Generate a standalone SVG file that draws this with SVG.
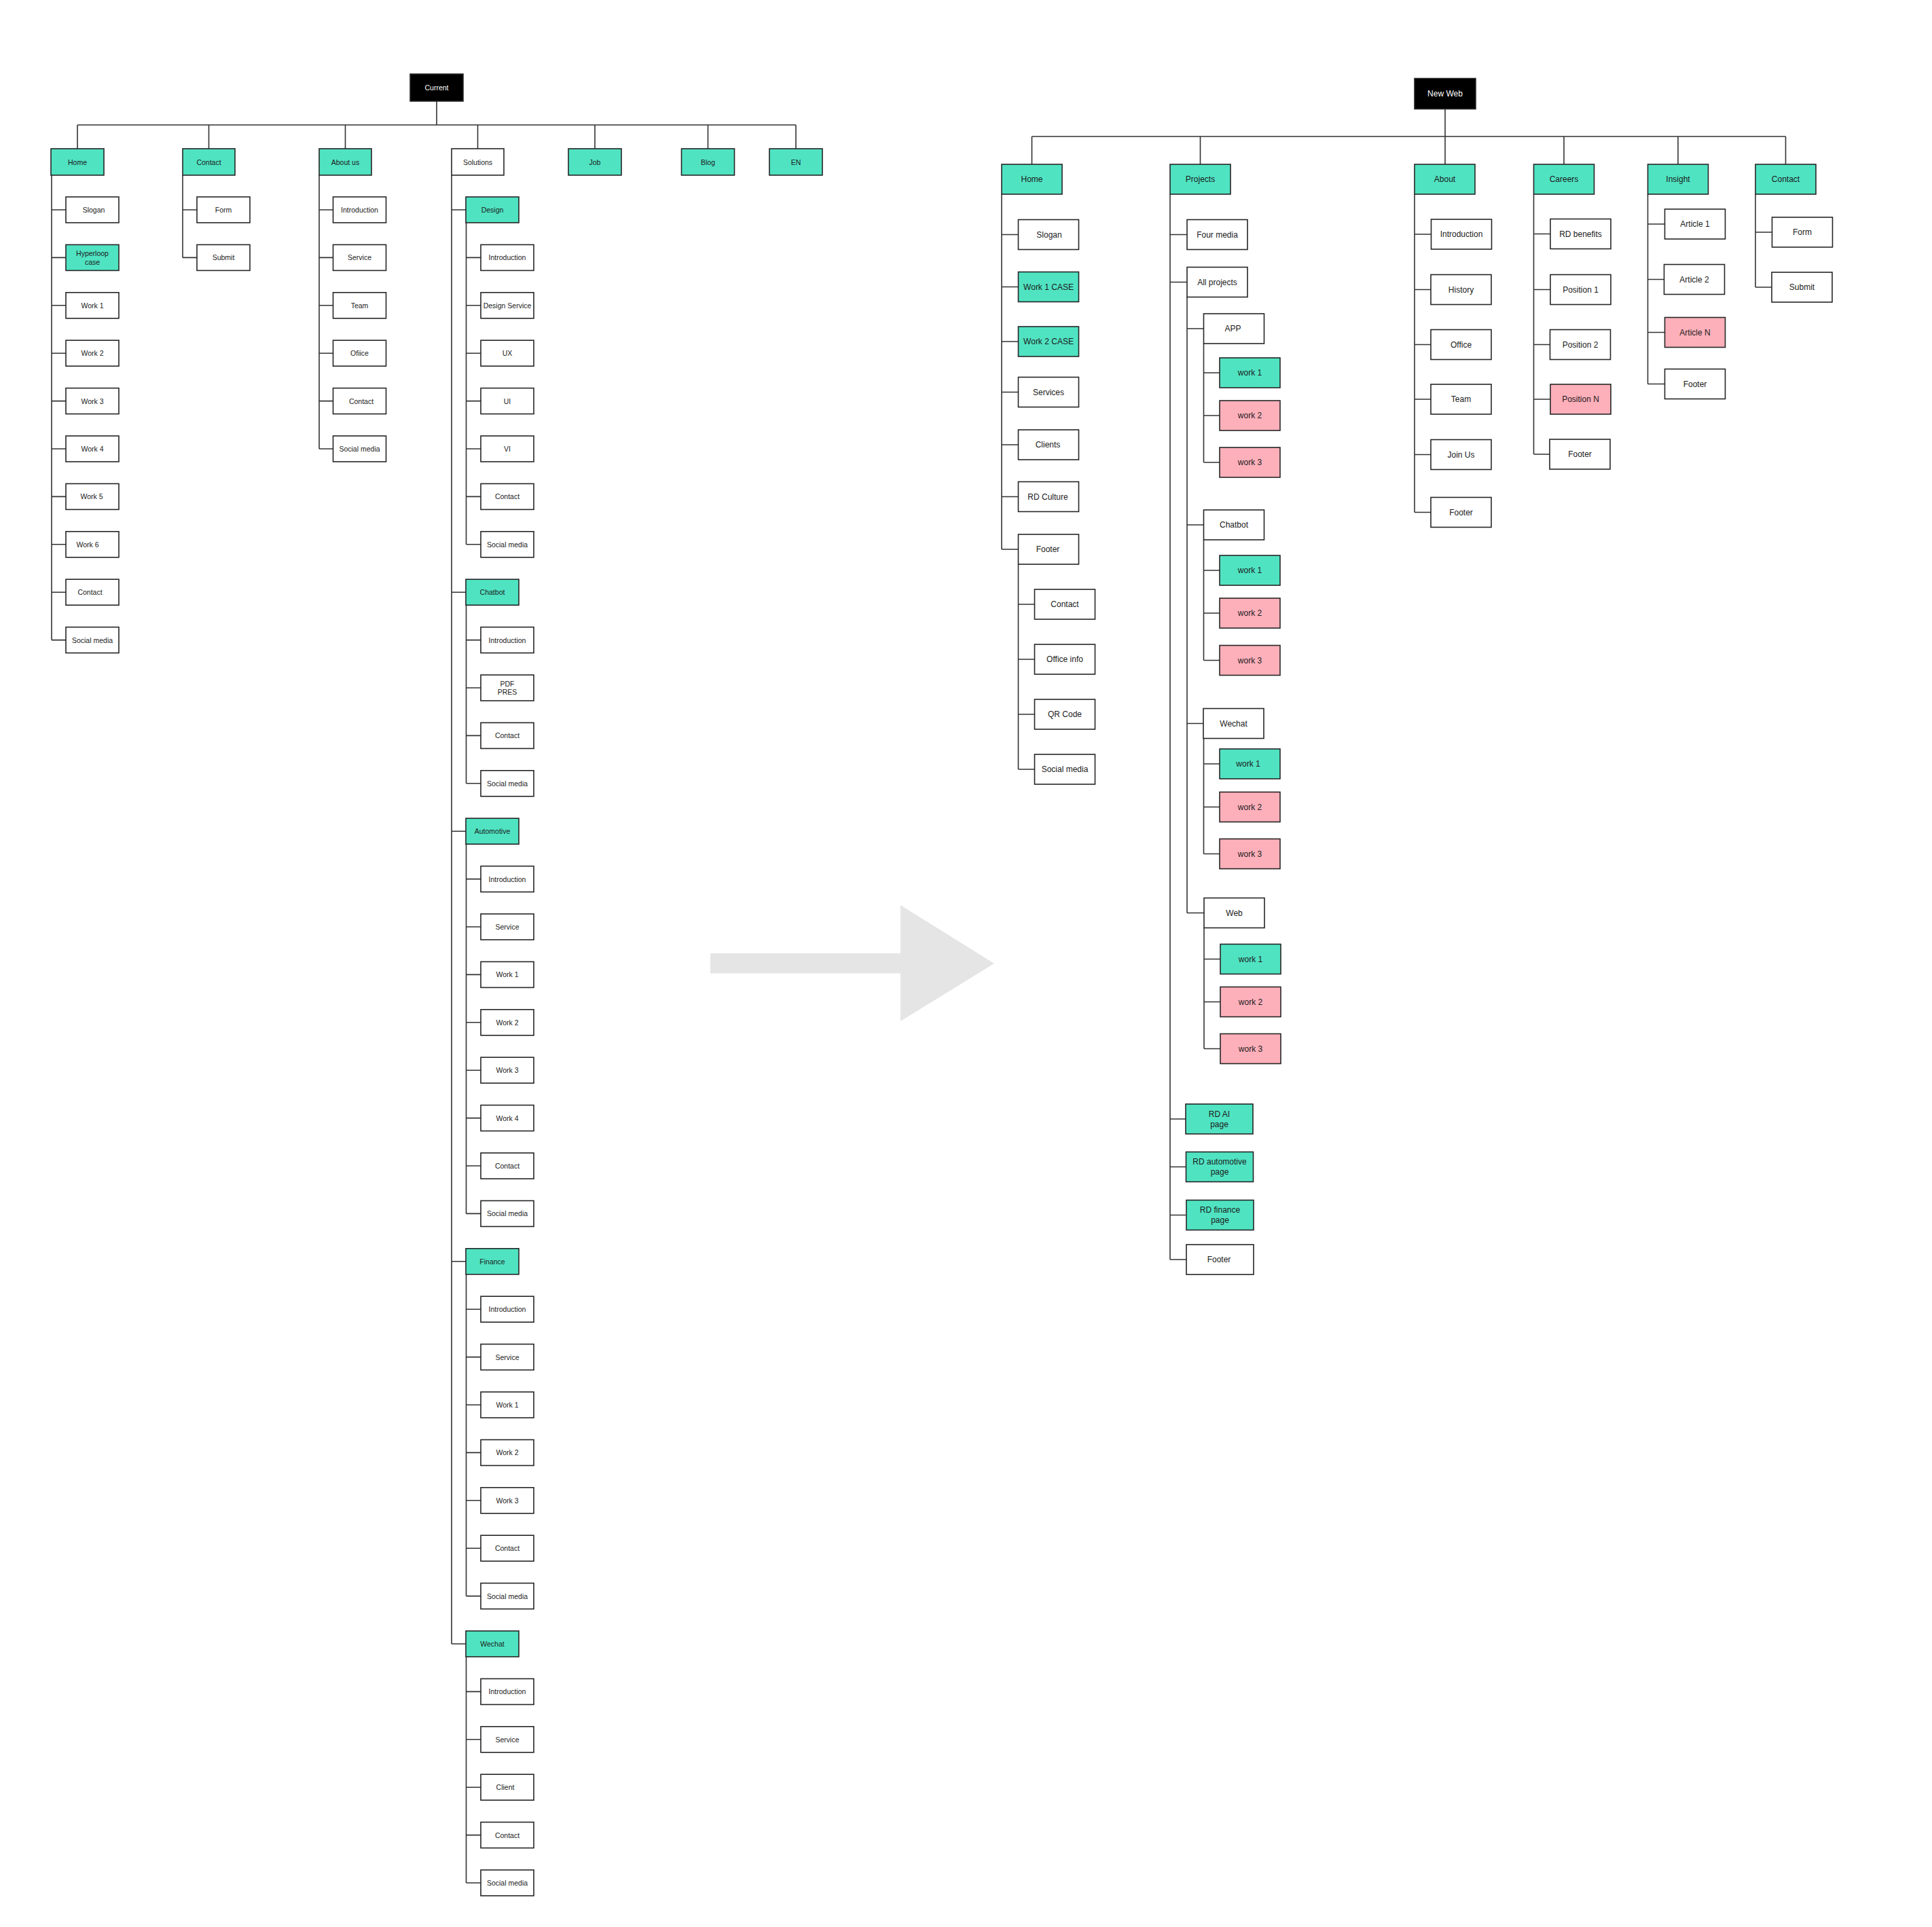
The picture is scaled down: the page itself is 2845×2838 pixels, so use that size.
<svg xmlns="http://www.w3.org/2000/svg" width="2845" height="2838" viewBox="0 0 2845 2838">
<style>
rect{stroke:#262626;stroke-width:1.6}
.w{fill:#fff}.t{fill:#50E3C2}.p{fill:#FDB0BA}.k{fill:#000}
text{font-family:"Liberation Sans",Arial,Helvetica,sans-serif;fill:#1a1a1a;text-anchor:middle;dominant-baseline:central}
.s{font-size:10.5px}.l{font-size:12px}.inv{fill:#fff}
</style>
<rect x="0" y="0" width="2845" height="2838" fill="#fff" style="stroke:none"/>
<g id="transition-arrow"><polygon points="1046,1404 1326,1404 1326,1333 1464,1419 1326,1504 1326,1433.5 1046,1433.5" fill="#E5E5E5"/></g>
<g id="connectors" fill="none" stroke="#333" stroke-width="1.6">
<path d="M643 149V184M114 184H1172M114 184V219M307.5 184V219M508.5 184V219M703.5 184V219M876 184V219M1042.5 184V219M1172 184V219"/>
<path d="M76 258V942.6M76 309H97M76 379.4H97M76 449.8H97M76 520.2H97M76 590.6H97M76 661H97M76 731.4H97M76 801.8H97M76 872.2H97M76 942.6H97"/>
<path d="M269 258V379.4M269 309H290M269 379.4H290"/>
<path d="M470 258V661M470 309H490.5M470 379.4H490.5M470 449.8H490.5M470 520.2H490.5M470 590.6H490.5M470 661H490.5"/>
<path d="M665 258V2421M665 309H686M665 872.2H686M665 1224.2H686M665 1857.8H686M665 2421H686"/>
<path d="M686.5 328V801.8M686.5 379.4H708M686.5 449.8H708M686.5 520.2H708M686.5 590.6H708M686.5 661H708M686.5 731.4H708M686.5 801.8H708"/>
<path d="M686.5 891.2V1153.8M686.5 942.6H708M686.5 1013H708M686.5 1083.4H708M686.5 1153.8H708"/>
<path d="M686.5 1243.2V1787.4M686.5 1294.6H708M686.5 1365H708M686.5 1435.4H708M686.5 1505.8H708M686.5 1576.2H708M686.5 1646.6H708M686.5 1717H708M686.5 1787.4H708"/>
<path d="M686.5 1876.8V2350.6M686.5 1928.2H708M686.5 1998.6H708M686.5 2069H708M686.5 2139.4H708M686.5 2209.8H708M686.5 2280.2H708M686.5 2350.6H708"/>
<path d="M686.5 2440V2773M686.5 2491.4H708M686.5 2561.8H708M686.5 2632.2H708M686.5 2702.6H708M686.5 2773H708"/>
<path d="M2128 160.5V242M1519.5 201H2629.5M1519.5 201V242M1767.5 201V242M2303 201V242M2471 201V242M2629.5 201V242"/>
<path d="M1475 286V809M1475 345.5H1499.5M1475 422.5H1499.5M1475 503H1499.5M1475 577.5H1499.5M1475 655H1499.5M1475 731.5H1499.5M1475 809H1499.5"/>
<path d="M1499.5 831V1133M1499.5 890H1523.5M1499.5 971H1523.5M1499.5 1052H1523.5M1499.5 1133H1523.5"/>
<path d="M1723 286V1855M1723 345.5H1748M1723 415.5H1748M1723 1648H1746M1723 1718.5H1746M1723 1789.5H1746M1723 1855H1747"/>
<path d="M1748 437.5V1344.5M1748 484H1772.5M1748 773H1772.5M1748 1065.5H1772.5M1748 1344.5H1773"/>
<path d="M1772.5 506V681M1772.5 549H1796M1772.5 612H1796M1772.5 681H1796"/>
<path d="M1772.5 795V972.5M1772.5 840H1796M1772.5 903H1796M1772.5 972.5H1796"/>
<path d="M1772.5 1087.5V1257.5M1772.5 1125H1796M1772.5 1188.5H1796M1772.5 1257.5H1796"/>
<path d="M1773 1366.5V1544.5M1773 1412.5H1797M1773 1475.5H1797M1773 1544.5H1797"/>
<path d="M2083 286V754.5M2083 345H2107.5M2083 426.5H2107.5M2083 507.5H2107.5M2083 588H2107.5M2083 669.5H2107.5M2083 754.5H2107.5"/>
<path d="M2258.5 286V669M2258.5 344.5H2283M2258.5 426.5H2283M2258.5 507.5H2283M2258.5 588H2283M2258.5 669H2283"/>
<path d="M2426.5 286V565.5M2426.5 330H2451M2426.5 411.5H2451M2426.5 489.5H2451M2426.5 565.5H2451"/>
<path d="M2585 286V423M2585 342H2609.5M2585 423H2609.5"/>
</g>
<g id="current-tree">
<g id="cur-root"><rect class="k" x="604" y="109" width="78" height="40"/><text class="s inv" x="643" y="129">Current</text></g>
<g id="cur-home"><rect class="t" x="75" y="219" width="78" height="39"/><text class="s" x="114" y="238.5">Home</text></g>
<g id="cur-contact"><rect class="t" x="269" y="219" width="77" height="39"/><text class="s" x="307.5" y="238.5">Contact</text></g>
<g id="cur-about"><rect class="t" x="470" y="219" width="77" height="39"/><text class="s" x="508.5" y="238.5">About us</text></g>
<g id="cur-solutions"><rect class="w" x="665" y="219" width="77" height="39"/><text class="s" x="703.5" y="238.5">Solutions</text></g>
<g id="cur-job"><rect class="t" x="837" y="219" width="78" height="39"/><text class="s" x="876" y="238.5">Job</text></g>
<g id="cur-blog"><rect class="t" x="1003.5" y="219" width="78" height="39"/><text class="s" x="1042.5" y="238.5">Blog</text></g>
<g id="cur-en"><rect class="t" x="1133" y="219" width="78" height="39"/><text class="s" x="1172" y="238.5">EN</text></g>

<g id="cur-home-slogan"><rect class="w" x="97" y="290" width="78" height="38"/><text class="s" x="138" y="309">Slogan</text></g>
<g id="cur-home-hyperloop"><rect class="t" x="97" y="360.4" width="78" height="38"/><text class="s" x="136"><tspan x="136" y="373">Hyperloop</tspan><tspan x="136" y="386">case</tspan></text></g>
<g id="cur-home-work1"><rect class="w" x="97" y="430.8" width="78" height="38"/><text class="s" x="136" y="449.8">Work 1</text></g>
<g id="cur-home-work2"><rect class="w" x="97" y="501.2" width="78" height="38"/><text class="s" x="136" y="520.2">Work 2</text></g>
<g id="cur-home-work3"><rect class="w" x="97" y="571.6" width="78" height="38"/><text class="s" x="136" y="590.6">Work 3</text></g>
<g id="cur-home-work4"><rect class="w" x="97" y="642" width="78" height="38"/><text class="s" x="136" y="661">Work 4</text></g>
<g id="cur-home-work5"><rect class="w" x="97" y="712.4" width="78" height="38"/><text class="s" x="135" y="731.4">Work 5</text></g>
<g id="cur-home-work6"><rect class="w" x="97" y="782.8" width="78" height="38"/><text class="s" x="129" y="801.8">Work 6</text></g>
<g id="cur-home-contact"><rect class="w" x="97" y="853.2" width="78" height="38"/><text class="s" x="132.5" y="872.2">Contact</text></g>
<g id="cur-home-social"><rect class="w" x="97" y="923.6" width="78" height="38"/><text class="s" x="136" y="942.6">Social media</text></g>

<g id="cur-contact-form"><rect class="w" x="290" y="290" width="78" height="38"/><text class="s" x="329" y="309">Form</text></g>
<g id="cur-contact-submit"><rect class="w" x="290" y="360.4" width="78" height="38"/><text class="s" x="329" y="379.4">Submit</text></g>

<g id="cur-about-intro"><rect class="w" x="490.5" y="290" width="78" height="38"/><text class="s" x="529.5" y="309">Introduction</text></g>
<g id="cur-about-service"><rect class="w" x="490.5" y="360.4" width="78" height="38"/><text class="s" x="529.5" y="379.4">Service</text></g>
<g id="cur-about-team"><rect class="w" x="490.5" y="430.8" width="78" height="38"/><text class="s" x="529.5" y="449.8">Team</text></g>
<g id="cur-about-office"><rect class="w" x="490.5" y="501.2" width="78" height="38"/><text class="s" x="529.5" y="520.2">Ofiice</text></g>
<g id="cur-about-contact"><rect class="w" x="490.5" y="571.6" width="78" height="38"/><text class="s" x="532" y="590.6">Contact</text></g>
<g id="cur-about-social"><rect class="w" x="490.5" y="642" width="78" height="38"/><text class="s" x="529.5" y="661">Social media</text></g>

<g id="cur-design"><rect class="t" x="686" y="290" width="78" height="38"/><text class="s" x="725" y="309">Design</text></g>
<g id="cur-design-intro"><rect class="w" x="708" y="360.4" width="78" height="38"/><text class="s" x="747" y="379.4">Introduction</text></g>
<g id="cur-design-service"><rect class="w" x="708" y="430.8" width="78" height="38"/><text class="s" x="747" y="449.8">Design Service</text></g>
<g id="cur-design-ux"><rect class="w" x="708" y="501.2" width="78" height="38"/><text class="s" x="747" y="520.2">UX</text></g>
<g id="cur-design-ui"><rect class="w" x="708" y="571.6" width="78" height="38"/><text class="s" x="747" y="590.6">UI</text></g>
<g id="cur-design-vi"><rect class="w" x="708" y="642" width="78" height="38"/><text class="s" x="747" y="661">VI</text></g>
<g id="cur-design-contact"><rect class="w" x="708" y="712.4" width="78" height="38"/><text class="s" x="747" y="731.4">Contact</text></g>
<g id="cur-design-social"><rect class="w" x="708" y="782.8" width="78" height="38"/><text class="s" x="747" y="801.8">Social media</text></g>

<g id="cur-chatbot"><rect class="t" x="686" y="853.2" width="78" height="38"/><text class="s" x="725" y="872.2">Chatbot</text></g>
<g id="cur-chatbot-intro"><rect class="w" x="708" y="923.6" width="78" height="38"/><text class="s" x="747" y="942.6">Introduction</text></g>
<g id="cur-chatbot-pdf"><rect class="w" x="708" y="994" width="78" height="38"/><text class="s" x="747"><tspan x="747" y="1007">PDF</tspan><tspan x="747" y="1019">PRES</tspan></text></g>
<g id="cur-chatbot-contact"><rect class="w" x="708" y="1064.4" width="78" height="38"/><text class="s" x="747" y="1083.4">Contact</text></g>
<g id="cur-chatbot-social"><rect class="w" x="708" y="1134.8" width="78" height="38"/><text class="s" x="747" y="1153.8">Social media</text></g>

<g id="cur-automotive"><rect class="t" x="686" y="1205.2" width="78" height="38"/><text class="s" x="725" y="1224.2">Automotive</text></g>
<g id="cur-auto-intro"><rect class="w" x="708" y="1275.6" width="78" height="38"/><text class="s" x="747" y="1294.6">Introduction</text></g>
<g id="cur-auto-service"><rect class="w" x="708" y="1346" width="78" height="38"/><text class="s" x="747" y="1365">Service</text></g>
<g id="cur-auto-work1"><rect class="w" x="708" y="1416.4" width="78" height="38"/><text class="s" x="747" y="1435.4">Work 1</text></g>
<g id="cur-auto-work2"><rect class="w" x="708" y="1486.8" width="78" height="38"/><text class="s" x="747" y="1505.8">Work 2</text></g>
<g id="cur-auto-work3"><rect class="w" x="708" y="1557.2" width="78" height="38"/><text class="s" x="747" y="1576.2">Work 3</text></g>
<g id="cur-auto-work4"><rect class="w" x="708" y="1627.6" width="78" height="38"/><text class="s" x="747" y="1646.6">Work 4</text></g>
<g id="cur-auto-contact"><rect class="w" x="708" y="1698" width="78" height="38"/><text class="s" x="747" y="1717">Contact</text></g>
<g id="cur-auto-social"><rect class="w" x="708" y="1768.4" width="78" height="38"/><text class="s" x="747" y="1787.4">Social media</text></g>

<g id="cur-finance"><rect class="t" x="686" y="1838.8" width="78" height="38"/><text class="s" x="725" y="1857.8">Finance</text></g>
<g id="cur-fin-intro"><rect class="w" x="708" y="1909.2" width="78" height="38"/><text class="s" x="747" y="1928.2">Introduction</text></g>
<g id="cur-fin-service"><rect class="w" x="708" y="1979.6" width="78" height="38"/><text class="s" x="747" y="1998.6">Service</text></g>
<g id="cur-fin-work1"><rect class="w" x="708" y="2050" width="78" height="38"/><text class="s" x="747" y="2069">Work 1</text></g>
<g id="cur-fin-work2"><rect class="w" x="708" y="2120.4" width="78" height="38"/><text class="s" x="747" y="2139.4">Work 2</text></g>
<g id="cur-fin-work3"><rect class="w" x="708" y="2190.8" width="78" height="38"/><text class="s" x="747" y="2209.8">Work 3</text></g>
<g id="cur-fin-contact"><rect class="w" x="708" y="2261.2" width="78" height="38"/><text class="s" x="747" y="2280.2">Contact</text></g>
<g id="cur-fin-social"><rect class="w" x="708" y="2331.6" width="78" height="38"/><text class="s" x="747" y="2350.6">Social media</text></g>

<g id="cur-wechat"><rect class="t" x="686" y="2402" width="78" height="38"/><text class="s" x="725" y="2421">Wechat</text></g>
<g id="cur-wechat-intro"><rect class="w" x="708" y="2472.4" width="78" height="38"/><text class="s" x="747" y="2491.4">Introduction</text></g>
<g id="cur-wechat-service"><rect class="w" x="708" y="2542.8" width="78" height="38"/><text class="s" x="747" y="2561.8">Service</text></g>
<g id="cur-wechat-client"><rect class="w" x="708" y="2613.2" width="78" height="38"/><text class="s" x="744" y="2632.2">Client</text></g>
<g id="cur-wechat-contact"><rect class="w" x="708" y="2683.6" width="78" height="38"/><text class="s" x="747" y="2702.6">Contact</text></g>
<g id="cur-wechat-social"><rect class="w" x="708" y="2754" width="78" height="38"/><text class="s" x="747" y="2773">Social media</text></g>
</g>

<g id="new-tree">
<g id="new-root"><rect class="k" x="2083" y="115.5" width="90" height="45"/><text class="l inv" x="2128" y="138">New Web</text></g>
<g id="new-home"><rect class="t" x="1475" y="242" width="89" height="44"/><text class="l" x="1519.5" y="264">Home</text></g>
<g id="new-projects"><rect class="t" x="1723" y="242" width="89" height="44"/><text class="l" x="1767.5" y="264">Projects</text></g>
<g id="new-about"><rect class="t" x="2083" y="242" width="89" height="44"/><text class="l" x="2127.5" y="264">About</text></g>
<g id="new-careers"><rect class="t" x="2258.5" y="242" width="89" height="44"/><text class="l" x="2303" y="264">Careers</text></g>
<g id="new-insight"><rect class="t" x="2426.5" y="242" width="89" height="44"/><text class="l" x="2471" y="264">Insight</text></g>
<g id="new-contact"><rect class="t" x="2585" y="242" width="89" height="44"/><text class="l" x="2629.5" y="264">Contact</text></g>

<g id="new-home-slogan"><rect class="w" x="1499.5" y="323.5" width="89" height="44"/><text class="l" x="1545" y="345.5">Slogan</text></g>
<g id="new-home-work1"><rect class="t" x="1499.5" y="400.5" width="89" height="44"/><text class="l" x="1544" y="422.5">Work 1 CASE</text></g>
<g id="new-home-work2"><rect class="t" x="1499.5" y="481" width="89" height="44"/><text class="l" x="1544" y="503">Work 2 CASE</text></g>
<g id="new-home-services"><rect class="w" x="1499.5" y="555.5" width="89" height="44"/><text class="l" x="1544" y="577.5">Services</text></g>
<g id="new-home-clients"><rect class="w" x="1499.5" y="633" width="89" height="44"/><text class="l" x="1543" y="655">Clients</text></g>
<g id="new-home-culture"><rect class="w" x="1499.5" y="709.5" width="89" height="44"/><text class="l" x="1543" y="731.5">RD Culture</text></g>
<g id="new-home-footer"><rect class="w" x="1499.5" y="787" width="89" height="44"/><text class="l" x="1543" y="809">Footer</text></g>
<g id="new-footer-contact"><rect class="w" x="1523.5" y="868" width="89" height="44"/><text class="l" x="1568" y="890">Contact</text></g>
<g id="new-footer-office"><rect class="w" x="1523.5" y="949" width="89" height="44"/><text class="l" x="1568" y="971">Office info</text></g>
<g id="new-footer-qr"><rect class="w" x="1523.5" y="1030" width="89" height="44"/><text class="l" x="1568" y="1052">QR Code</text></g>
<g id="new-footer-social"><rect class="w" x="1523.5" y="1111" width="89" height="44"/><text class="l" x="1568" y="1133">Social media</text></g>

<g id="new-proj-four"><rect class="w" x="1748" y="323.5" width="89" height="44"/><text class="l" x="1792.5" y="345.5">Four media</text></g>
<g id="new-proj-all"><rect class="w" x="1748" y="393.5" width="89" height="44"/><text class="l" x="1792.5" y="415.5">All projects</text></g>
<g id="new-app"><rect class="w" x="1772.5" y="462" width="89" height="44"/><text class="l" x="1815.5" y="484">APP</text></g>
<g id="new-app-w1"><rect class="t" x="1796" y="527" width="89" height="44"/><text class="l" x="1840.5" y="549">work 1</text></g>
<g id="new-app-w2"><rect class="p" x="1796" y="590" width="89" height="44"/><text class="l" x="1840.5" y="612">work 2</text></g>
<g id="new-app-w3"><rect class="p" x="1796" y="659" width="89" height="44"/><text class="l" x="1840.5" y="681">work 3</text></g>
<g id="new-chatbot"><rect class="w" x="1772.5" y="751" width="89" height="44"/><text class="l" x="1817" y="773">Chatbot</text></g>
<g id="new-chatbot-w1"><rect class="t" x="1796" y="818" width="89" height="44"/><text class="l" x="1840.5" y="840">work 1</text></g>
<g id="new-chatbot-w2"><rect class="p" x="1796" y="881" width="89" height="44"/><text class="l" x="1840.5" y="903">work 2</text></g>
<g id="new-chatbot-w3"><rect class="p" x="1796" y="950.5" width="89" height="44"/><text class="l" x="1840.5" y="972.5">work 3</text></g>
<g id="new-wechat"><rect class="w" x="1772" y="1043.5" width="89" height="44"/><text class="l" x="1816.5" y="1065.5">Wechat</text></g>
<g id="new-wechat-w1"><rect class="t" x="1796" y="1103" width="89" height="44"/><text class="l" x="1838" y="1125">work 1</text></g>
<g id="new-wechat-w2"><rect class="p" x="1796" y="1166.5" width="89" height="44"/><text class="l" x="1840.5" y="1188.5">work 2</text></g>
<g id="new-wechat-w3"><rect class="p" x="1796" y="1235.5" width="89" height="44"/><text class="l" x="1840.5" y="1257.5">work 3</text></g>
<g id="new-web"><rect class="w" x="1773" y="1322.5" width="89" height="44"/><text class="l" x="1817.5" y="1344.5">Web</text></g>
<g id="new-web-w1"><rect class="t" x="1797" y="1390.5" width="89" height="44"/><text class="l" x="1841.5" y="1412.5">work 1</text></g>
<g id="new-web-w2"><rect class="p" x="1797" y="1453.5" width="89" height="44"/><text class="l" x="1841.5" y="1475.5">work 2</text></g>
<g id="new-web-w3"><rect class="p" x="1797" y="1522.5" width="89" height="44"/><text class="l" x="1841.5" y="1544.5">work 3</text></g>
<g id="new-rd-ai"><rect class="t" x="1746" y="1626" width="99" height="44"/><text class="l" x="1795.5"><tspan x="1795.5" y="1640.5">RD AI</tspan><tspan x="1795.5" y="1655.5">page</tspan></text></g>
<g id="new-rd-auto"><rect class="t" x="1746.5" y="1696.5" width="99" height="44"/><text class="l" x="1796"><tspan x="1796" y="1711">RD automotive</tspan><tspan x="1796" y="1726">page</tspan></text></g>
<g id="new-rd-finance"><rect class="t" x="1747" y="1767.5" width="99" height="44"/><text class="l" x="1796.5"><tspan x="1796.5" y="1782">RD finance</tspan><tspan x="1796.5" y="1797">page</tspan></text></g>
<g id="new-proj-footer"><rect class="w" x="1747" y="1833" width="99" height="44"/><text class="l" x="1795" y="1855">Footer</text></g>

<g id="new-about-intro"><rect class="w" x="2107.5" y="323" width="89" height="44"/><text class="l" x="2152" y="345">Introduction</text></g>
<g id="new-about-history"><rect class="w" x="2107" y="404.5" width="89" height="44"/><text class="l" x="2151.5" y="426.5">History</text></g>
<g id="new-about-office"><rect class="w" x="2107" y="485.5" width="89" height="44"/><text class="l" x="2151.5" y="507.5">Office</text></g>
<g id="new-about-team"><rect class="w" x="2107" y="566" width="89" height="44"/><text class="l" x="2151.5" y="588">Team</text></g>
<g id="new-about-join"><rect class="w" x="2107" y="647.5" width="89" height="44"/><text class="l" x="2151.5" y="669.5">Join Us</text></g>
<g id="new-about-footer"><rect class="w" x="2107" y="732.5" width="89" height="44"/><text class="l" x="2151.5" y="754.5">Footer</text></g>

<g id="new-careers-benefits"><rect class="w" x="2283" y="322.5" width="89" height="44"/><text class="l" x="2327.5" y="344.5">RD benefits</text></g>
<g id="new-careers-p1"><rect class="w" x="2283" y="404.5" width="89" height="44"/><text class="l" x="2327.5" y="426.5">Position 1</text></g>
<g id="new-careers-p2"><rect class="w" x="2282.5" y="485.5" width="89" height="44"/><text class="l" x="2327" y="507.5">Position 2</text></g>
<g id="new-careers-pn"><rect class="p" x="2283" y="566" width="89" height="44"/><text class="l" x="2327.5" y="588">Position N</text></g>
<g id="new-careers-footer"><rect class="w" x="2282" y="647" width="89" height="44"/><text class="l" x="2326.5" y="669">Footer</text></g>

<g id="new-insight-a1"><rect class="w" x="2451.5" y="308" width="89" height="44"/><text class="l" x="2496" y="330">Article 1</text></g>
<g id="new-insight-a2"><rect class="w" x="2450.5" y="389.5" width="89" height="44"/><text class="l" x="2495" y="411.5">Article 2</text></g>
<g id="new-insight-an"><rect class="p" x="2451.5" y="467.5" width="89" height="44"/><text class="l" x="2496" y="489.5">Article N</text></g>
<g id="new-insight-footer"><rect class="w" x="2451.5" y="543.5" width="89" height="44"/><text class="l" x="2496" y="565.5">Footer</text></g>

<g id="new-contact-form"><rect class="w" x="2609.5" y="320" width="89" height="44"/><text class="l" x="2654" y="342">Form</text></g>
<g id="new-contact-submit"><rect class="w" x="2609" y="401" width="89" height="44"/><text class="l" x="2653.5" y="423">Submit</text></g>
</g>
</svg>
